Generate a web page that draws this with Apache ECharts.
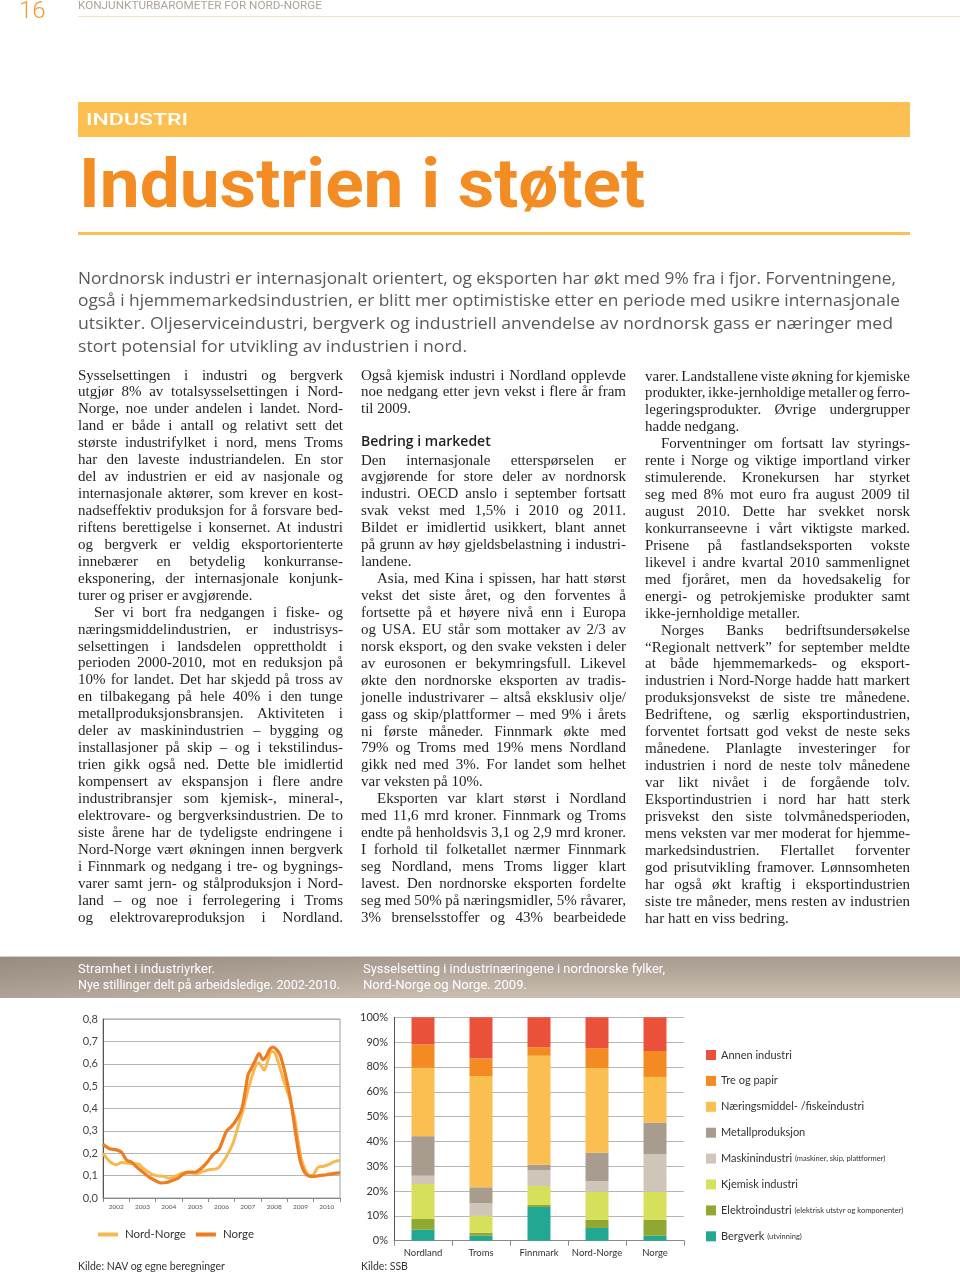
<!DOCTYPE html>
<html><head><meta charset="utf-8">
<script src="https://cdn.jsdelivr.net/npm/echarts@6/dist/echarts.min.js"></script>
<style>
html,body{margin:0;padding:0;background:#fff;}
body{width:960px;height:1273px;position:relative;overflow:hidden;}
.abs{position:absolute;white-space:nowrap;}
#chart{position:absolute;left:0;top:0;width:960px;height:1273px;z-index:1;}
.txt{z-index:2;}
.col{position:absolute;width:265px;font-family:'Liberation Serif','Times New Roman',serif;font-size:15px;line-height:16.94px;color:#231f20;z-index:2;}
.col>div{height:16.94px;white-space:nowrap;}
.col>div>span{display:inline-block;transform-origin:0 50%;white-space:nowrap;}
.col>div.i{padding-left:16px;}
.lead{font-family:'Open Sans','Noto Sans',sans-serif;font-size:16.5px;color:#58595b;line-height:22.7px;height:22.7px;transform-origin:0 50%;}
.band{position:absolute;left:0;top:956px;width:960px;height:41px;z-index:0;
 background:linear-gradient(90deg,rgba(120,110,98,0.35) 0%,rgba(120,110,98,0) 45%),linear-gradient(180deg,#a89c90 0%,#b8ac9f 50%,#cbbfb2 100%);
 border-top:1px solid #d8d0c6;}
.bt{font-family:'Roboto','Noto Sans',sans-serif;font-size:12.5px;color:#fff;line-height:16px;transform-origin:0 50%;z-index:2;}
</style></head>
<body>
<div class="abs txt" style="left:19px;top:-3px;font-family:'Roboto',sans-serif;font-weight:300;font-size:24px;line-height:26px;color:#f39a33;">16</div>
<div class="abs txt fit" data-w="244" style="left:78px;top:-1px;font-family:'Roboto',sans-serif;font-size:11px;color:#aca49b;transform-origin:0 50%;">KONJUNKTURBAROMETER FOR NORD-NORGE</div>
<div class="abs" style="left:78px;top:16px;width:882px;height:1px;background:#efe3c8;"></div>

<div class="abs" style="left:78px;top:102px;width:832px;height:35px;background:#fcbf52;"></div>
<div class="abs txt fit" data-w="102" style="left:86px;top:109px;font-family:'Roboto',sans-serif;font-weight:500;font-size:17px;color:#fff;transform-origin:0 50%;">INDUSTRI</div>
<div class="abs txt fit" data-w="566" style="left:79px;top:150px;font-family:'Roboto',sans-serif;font-weight:700;font-size:68px;line-height:68px;color:#f28c23;transform-origin:0 50%;">Industrien i støtet</div>
<div class="abs" style="left:78px;top:232px;width:832px;height:3px;background:#fcbf52;"></div>

<div class="abs txt lead fit" data-w="818" style="left:78px;top:266.5px;">Nordnorsk industri er internasjonalt orientert, og eksporten har økt med 9% fra i fjor. Forventningene,</div>
<div class="abs txt lead fit" data-w="822" style="left:78px;top:289.2px;">også i hjemmemarkedsindustrien, er blitt mer optimistiske etter en periode med usikre internasjonale</div>
<div class="abs txt lead fit" data-w="815" style="left:78px;top:311.9px;">utsikter. Oljeserviceindustri, bergverk og industriell anvendelse av nordnorsk gass er næringer med</div>
<div class="abs txt lead fit" data-w="389" style="left:78px;top:334.6px;">stort potensial for utvikling av industrien i nord.</div>

<div class="col" style="left:78px;top:366.5px;">
<div class="j">Sysselsettingen i industri og bergverk</div>
<div class="j">utgjør 8% av totalsysselsettingen i Nord-</div>
<div class="j">Norge, noe under andelen i landet. Nord-</div>
<div class="j">land er både i antall og relativt sett det</div>
<div class="j">største industrifylket i nord, mens Troms</div>
<div class="j">har den laveste industriandelen. En stor</div>
<div class="j">del av industrien er eid av nasjonale og</div>
<div class="j">internasjonale aktører, som krever en kost-</div>
<div class="j">nadseffektiv produksjon for å forsvare bed-</div>
<div class="j">riftens berettigelse i konsernet. At industri</div>
<div class="j">og bergverk er veldig eksportorienterte</div>
<div class="j">innebærer en betydelig konkurranse-</div>
<div class="j">eksponering, der internasjonale konjunk-</div>
<div class="e">turer og priser er avgjørende.</div>
<div class="j i">Ser vi bort fra nedgangen i fiske- og</div>
<div class="j">næringsmiddelindustrien, er industrisys-</div>
<div class="j">selsettingen i landsdelen opprettholdt i</div>
<div class="j">perioden 2000-2010, mot en reduksjon på</div>
<div class="j">10% for landet. Det har skjedd på tross av</div>
<div class="j">en tilbakegang på hele 40% i den tunge</div>
<div class="j">metallproduksjonsbransjen. Aktiviteten i</div>
<div class="j">deler av maskinindustrien – bygging og</div>
<div class="j">installasjoner på skip – og i tekstilindus-</div>
<div class="j">trien gikk også ned. Dette ble imidlertid</div>
<div class="j">kompensert av ekspansjon i flere andre</div>
<div class="j">industribransjer som kjemisk-, mineral-,</div>
<div class="j">elektrovare- og bergverksindustrien. De to</div>
<div class="j">siste årene har de tydeligste endringene i</div>
<div class="j">Nord-Norge vært økningen innen bergverk</div>
<div class="j">i Finnmark og nedgang i tre- og bygnings-</div>
<div class="j">varer samt jern- og stålproduksjon i Nord-</div>
<div class="j">land – og noe i ferrolegering i Troms</div>
<div class="j">og elektrovareproduksjon i Nordland.</div>
</div>

<div class="col" style="left:361px;top:366.5px;">
<div class="j">Også kjemisk industri i Nordland opplevde</div>
<div class="j">noe nedgang etter jevn vekst i flere år fram</div>
<div class="e">til 2009.</div>
</div>
<div class="abs txt" style="left:361px;top:432px;font-family:'Open Sans','Noto Sans',sans-serif;font-weight:600;font-size:14px;line-height:18px;color:#231f20;">Bedring i markedet</div>
<div class="col" style="left:361px;top:451.5px;">
<div class="j">Den internasjonale etterspørselen er</div>
<div class="j">avgjørende for store deler av nordnorsk</div>
<div class="j">industri. OECD anslo i september fortsatt</div>
<div class="j">svak vekst med 1,5% i 2010 og 2011.</div>
<div class="j">Bildet er imidlertid usikkert, blant annet</div>
<div class="j">på grunn av høy gjeldsbelastning i industri-</div>
<div class="e">landene.</div>
<div class="j i">Asia, med Kina i spissen, har hatt størst</div>
<div class="j">vekst det siste året, og den forventes å</div>
<div class="j">fortsette på et høyere nivå enn i Europa</div>
<div class="j">og USA. EU står som mottaker av 2/3 av</div>
<div class="j">norsk eksport, og den svake veksten i deler</div>
<div class="j">av eurosonen er bekymringsfull. Likevel</div>
<div class="j">økte den nordnorske eksporten av tradis-</div>
<div class="j">jonelle industrivarer – altså eksklusiv olje/</div>
<div class="j">gass og skip/plattformer – med 9% i årets</div>
<div class="j">ni første måneder. Finnmark økte med</div>
<div class="j">79% og Troms med 19% mens Nordland</div>
<div class="j">gikk ned med 3%. For landet som helhet</div>
<div class="e">var veksten på 10%.</div>
<div class="j i">Eksporten var klart størst i Nordland</div>
<div class="j">med 11,6 mrd kroner. Finnmark og Troms</div>
<div class="j">endte på henholdsvis 3,1 og 2,9 mrd kroner.</div>
<div class="j">I forhold til folketallet nærmer Finnmark</div>
<div class="j">seg Nordland, mens Troms ligger klart</div>
<div class="j">lavest. Den nordnorske eksporten fordelte</div>
<div class="j">seg med 50% på næringsmidler, 5% råvarer,</div>
<div class="j">3% brenselsstoffer og 43% bearbeidede</div>
</div>

<div class="col" style="left:645px;top:367.5px;">
<div class="j">varer. Landstallene viste økning for kjemiske</div>
<div class="j">produkter, ikke-jernholdige metaller og ferro-</div>
<div class="j">legeringsprodukter. Øvrige undergrupper</div>
<div class="e">hadde nedgang.</div>
<div class="j i">Forventninger om fortsatt lav styrings-</div>
<div class="j">rente i Norge og viktige importland virker</div>
<div class="j">stimulerende. Kronekursen har styrket</div>
<div class="j">seg med 8% mot euro fra august 2009 til</div>
<div class="j">august 2010. Dette har svekket norsk</div>
<div class="j">konkurranseevne i vårt viktigste marked.</div>
<div class="j">Prisene på fastlandseksporten vokste</div>
<div class="j">likevel i andre kvartal 2010 sammenlignet</div>
<div class="j">med fjoråret, men da hovedsakelig for</div>
<div class="j">energi- og petrokjemiske produkter samt</div>
<div class="e">ikke-jernholdige metaller.</div>
<div class="j i">Norges Banks bedriftsundersøkelse</div>
<div class="j">“Regionalt nettverk” for september meldte</div>
<div class="j">at både hjemmemarkeds- og eksport-</div>
<div class="j">industrien i Nord-Norge hadde hatt markert</div>
<div class="j">produksjonsvekst de siste tre månedene.</div>
<div class="j">Bedriftene, og særlig eksportindustrien,</div>
<div class="j">forventet fortsatt god vekst de neste seks</div>
<div class="j">månedene. Planlagte investeringer for</div>
<div class="j">industrien i nord de neste tolv månedene</div>
<div class="j">var likt nivået i de forgående tolv.</div>
<div class="j">Eksportindustrien i nord har hatt sterk</div>
<div class="j">prisvekst den siste tolvmånedsperioden,</div>
<div class="j">mens veksten var mer moderat for hjemme-</div>
<div class="j">markedsindustrien. Flertallet forventer</div>
<div class="j">god prisutvikling framover. Lønnsomheten</div>
<div class="j">har også økt kraftig i eksportindustrien</div>
<div class="j">siste tre måneder, mens resten av industrien</div>
<div class="e">har hatt en viss bedring.</div>
</div>

<div class="band"></div>
<div class="abs txt bt fit" data-w="137" style="left:78px;top:961px;">Stramhet i industriyrker.</div>
<div class="abs txt bt fit" data-w="262" style="left:78px;top:977px;">Nye stillinger delt på arbeidsledige. 2002-2010.</div>
<div class="abs txt bt fit" data-w="302" style="left:363px;top:961px;">Sysselsetting i industrinæringene i nordnorske fylker,</div>
<div class="abs txt bt fit" data-w="164" style="left:363px;top:977px;">Nord-Norge og Norge. 2009.</div>

<div class="abs txt" style="left:78px;top:1260px;font-family:'Lato','Roboto',sans-serif;font-size:10.5px;color:#333;">Kilde: NAV og egne beregninger</div>
<div class="abs txt" style="left:361px;top:1260px;font-family:'Lato','Roboto',sans-serif;font-size:10.5px;color:#333;">Kilde: SSB</div>

<div id="chart"></div>

<script>
// ---------- Chart 1: Stramhet i industriyrker ----------
const years = ['2002','2003','2004','2005','2006','2007','2008','2009','2010'];
const yTicks1 = ['0,0','0,1','0,2','0,3','0,4','0,5','0,6','0,7','0,8'];
const nordNorgeTime = [2002.00,2002.25,2002.51,2002.70,2002.89,2003.14,2003.33,2003.52,2003.77,2004.03,2004.28,2004.53,2004.79,2005.04,2005.30,2005.55,2005.80,2006.06,2006.31,2006.44,2006.69,2006.94,2007.13,2007.32,2007.51,2007.70,2007.89,2008.02,2008.12,2008.27,2008.40,2008.53,2008.72,2008.91,2009.10,2009.29,2009.42,2009.54,2009.71,2009.86,2009.99,2010.18,2010.37,2010.56,2010.81,2011.00];
const nordNorgeValues = [0.200,0.164,0.149,0.159,0.156,0.153,0.152,0.134,0.112,0.100,0.097,0.089,0.100,0.112,0.112,0.109,0.119,0.127,0.130,0.142,0.186,0.246,0.320,0.395,0.484,0.559,0.604,0.589,0.571,0.618,0.656,0.648,0.581,0.507,0.440,0.350,0.246,0.171,0.119,0.100,0.104,0.139,0.142,0.149,0.164,0.168];
const norgeTime = [2002.00,2002.25,2002.51,2002.70,2002.89,2003.08,2003.27,2003.52,2003.77,2004.03,2004.22,2004.41,2004.60,2004.85,2005.04,2005.23,2005.49,2005.68,2005.93,2006.18,2006.40,2006.69,2006.88,2007.07,2007.26,2007.39,2007.51,2007.64,2007.77,2007.93,2008.08,2008.21,2008.34,2008.46,2008.59,2008.72,2008.85,2008.97,2009.10,2009.22,2009.35,2009.48,2009.60,2009.73,2009.86,2010.05,2010.24,2010.49,2010.74,2011.00];
const norgeValues = [0.240,0.220,0.215,0.205,0.170,0.160,0.140,0.115,0.092,0.075,0.067,0.069,0.077,0.089,0.107,0.116,0.115,0.127,0.156,0.194,0.216,0.298,0.320,0.350,0.395,0.469,0.551,0.581,0.611,0.645,0.618,0.636,0.666,0.674,0.663,0.641,0.589,0.529,0.455,0.365,0.261,0.171,0.127,0.104,0.097,0.097,0.101,0.104,0.109,0.112];

// ---------- Chart 2: Sysselsetting i industrinæringene ----------
const regions = ['Nordland','Troms','Finnmark','Nord-Norge','Norge'];
const yTicks2 = ['0%','10%','20%','30%','40%','50%','60%','80%','90%','100%'];
const bergverk     = [4.9, 2.2, 15.1, 5.7, 2.2];
const elektro      = [4.8, 1.4, 0.9, 3.6, 7.1];
const kjemisk      = [15.7, 7.5, 8.5, 12.6, 12.6];
const maskin       = [3.7, 5.6, 7.0, 4.7, 16.8];
const metall       = [17.7, 7.2, 2.5, 12.8, 14.1];
const naeringsmiddel = [30.6, 49.8, 48.8, 37.9, 20.5];
const treOgPapir   = [10.5, 7.9, 3.8, 8.8, 11.6];
const annen        = [12.1, 18.4, 13.4, 13.9, 15.1];

const barSeriesDef = [
  {name:'Bergverk', data:bergverk, color:'#22a892', note:'(utvinning)'},
  {name:'Elektroindustri', data:elektro, color:'#8fa832', note:'(elektrisk utstyr og komponenter)'},
  {name:'Kjemisk industri', data:kjemisk, color:'#d6e05a', note:''},
  {name:'Maskinindustri', data:maskin, color:'#cfc5b8', note:'(maskiner, skip, plattformer)'},
  {name:'Metallproduksjon', data:metall, color:'#a89c8f', note:''},
  {name:'Næringsmiddel- /fiskeindustri', data:naeringsmiddel, color:'#fbbe50', note:''},
  {name:'Tre og papir', data:treOgPapir, color:'#f38b22', note:''},
  {name:'Annen industri', data:annen, color:'#ea503a', note:''}
];
const notes = {};
barSeriesDef.forEach(d => notes[d.name] = d.note);

const chartFont = "'Lato','Roboto',sans-serif";
const chart = echarts.init(document.getElementById('chart'), null, {renderer:'canvas'});
const option = {
  animation:false,
  backgroundColor:'transparent',
  textStyle:{fontFamily:chartFont},
  grid:[
    {left:103, top:1019, width:237, height:179, show:true, borderColor:'#a0a0a0', borderWidth:1},
    {left:394, top:1017.3, width:290, height:223.4, show:false}
  ],
  legend:[
    {data:['Nord-Norge','Norge'], left:98, top:1228, padding:0, orient:'horizontal', icon:'rect', itemWidth:20, itemHeight:4, itemGap:10,
     textStyle:{fontSize:11.5, color:'#333', fontFamily:chartFont, lineHeight:13, padding:[0,0,0,2]}},
    {data:barSeriesDef.map(d=>d.name).reverse(), left:706, top:1049.5, padding:0, orient:'vertical', icon:'rect', itemWidth:10, itemHeight:10, itemGap:14.9,
     formatter: n => notes[n] ? n + ' {s|' + notes[n] + '}' : n,
     textStyle:{fontSize:11, color:'#333', fontFamily:chartFont, lineHeight:10,
       rich:{s:{fontSize:7.5, color:'#333', fontFamily:chartFont, lineHeight:10}}}}
  ],
  xAxis:[
    {gridIndex:0, type:'category', data:years, boundaryGap:true, position:'bottom',
     axisLine:{lineStyle:{color:'#8a8a8a'}}, axisTick:{show:true, length:4, alignWithLabel:false, lineStyle:{color:'#8a8a8a'}},
     axisLabel:{fontSize:6.5, color:'#555', margin:5, interval:0}, splitLine:{show:false}},
    {gridIndex:0, type:'value', min:2002, max:2011, show:false},
    {gridIndex:1, type:'category', data:regions, boundaryGap:true,
     axisLine:{lineStyle:{color:'#8a8a8a'}}, axisTick:{show:true, length:5, interval:0, alignWithLabel:false, lineStyle:{color:'#8a8a8a'}},
     axisLabel:{fontSize:9.5, color:'#333', margin:7, interval:0}, splitLine:{show:false}}
  ],
  yAxis:[
    {gridIndex:0, type:'value', min:0, max:0.8, interval:0.1,
     axisLine:{show:true, lineStyle:{color:'#555', width:1}}, axisTick:{show:false},
     axisLabel:{fontSize:11, color:'#444', margin:5, formatter:(v)=>yTicks1[Math.round(v*10)]},
     splitLine:{show:true, lineStyle:{color:'#b5b5b5', width:1}}},
    {gridIndex:1, type:'category', data:yTicks2, boundaryGap:false,
     axisLine:{show:true, lineStyle:{color:'#555', width:1}}, axisTick:{show:false},
     axisLabel:{fontSize:11, color:'#333', margin:6, interval:0},
     splitLine:{show:true, interval:0, lineStyle:{color:'#b5b5b5', width:1}}},
    {gridIndex:1, type:'value', min:0, max:100, show:false, splitLine:{show:false}}
  ],
  series:[
    {name:'Nord-Norge', type:'line', xAxisIndex:1, yAxisIndex:0, smooth:0.3, showSymbol:false,
     data:nordNorgeTime.map((t,i)=>[t, nordNorgeValues[i]]), color:'#f9b84e', lineStyle:{width:3, color:'#f9b84e'}, z:3},
    {name:'Norge', type:'line', xAxisIndex:1, yAxisIndex:0, smooth:0.3, showSymbol:false,
     data:norgeTime.map((t,i)=>[t, norgeValues[i]]), color:'#ee7d22', lineStyle:{width:3.2, color:'#ee7d22'}, z:4}
  ].concat(barSeriesDef.map(d => ({
     name:d.name, type:'bar', stack:'andel', xAxisIndex:2, yAxisIndex:2, barWidth:23,
     data:d.data, color:d.color, itemStyle:{color:d.color}
  })))
};
chart.setOption(option);

// ---------- text fitting ----------
function fitAll(){
  document.querySelectorAll('.fit').forEach(el=>{
    const t = +el.dataset.w;
    el.style.display='inline-block';
    el.style.transform='none';
    const w = el.getBoundingClientRect().width;
    el.style.transform = 'scaleX(' + (t/w) + ')';
  });
  document.querySelectorAll('.col').forEach(col=>{
    const W = 265;
    col.querySelectorAll(':scope>div').forEach(line=>{
      const txt = line.textContent;
      line.textContent = '';
      const sp = document.createElement('span');
      sp.textContent = txt;
      line.appendChild(sp);
      const T = W - (line.classList.contains('i') ? 16 : 0);
      let w = sp.getBoundingClientRect().width;
      if (line.classList.contains('j')) {
        const n = (txt.match(/ /g)||[]).length;
        if (n > 0) {
          let ws = (T - w)/n;
          if (ws < -1.2) ws = -1.2;
          sp.style.wordSpacing = ws + 'px';
          w = sp.getBoundingClientRect().width;
        }
        if (w > T + 0.5) sp.style.transform = 'scaleX(' + (T/w) + ')';
      } else {
        if (w > T) sp.style.transform = 'scaleX(' + (T/w) + ')';
      }
    });
  });
}
if (document.fonts && document.fonts.ready) { document.fonts.ready.then(fitAll); } else { fitAll(); }
</script>
</body></html>
